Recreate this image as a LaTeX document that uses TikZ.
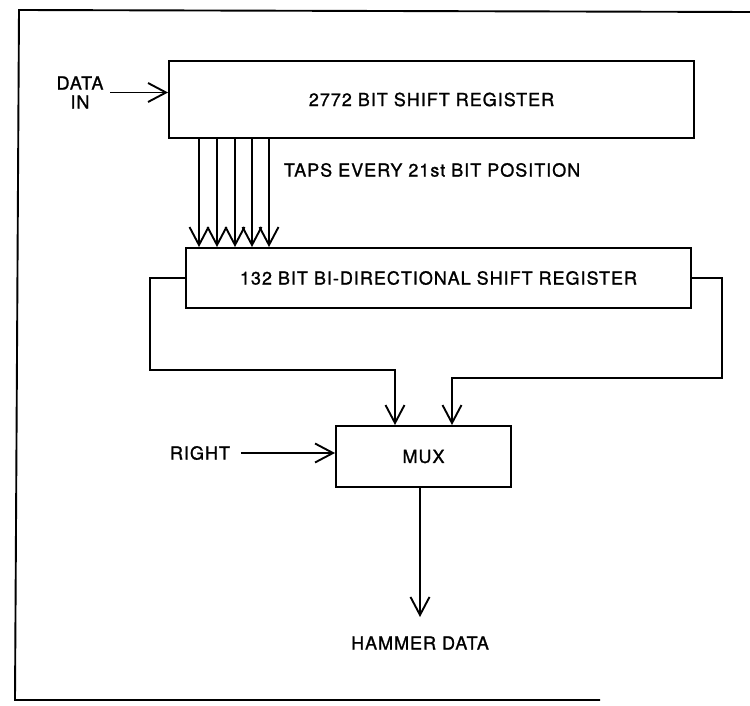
\documentclass[tikz,border=0pt]{standalone}
\usepackage{fontspec}
\newfontfamily\diafont[LetterSpace=5.5,FakeBold=1.2]{TeX Gyre Heros}
\usetikzlibrary{arrows.meta}
\begin{document}
\begin{tikzpicture}[x=1pt,y=-1pt,line width=1.9pt,
  box/.style={draw,rectangle,inner sep=0pt,line join=miter,
    font=\diafont\fontsize{18}{19}\selectfont},
  lbl/.style={inner sep=0pt,font=\diafont\fontsize{18}{19}\selectfont},
  arr/.style={-{Straight Barb[length=18pt,width=19pt,line width=1.9pt]}}]
\useasboundingbox (0,0) rectangle (750,706);
% frame
\coordinate (f1) at (750,12);
\coordinate (f2) at (19,10);
\coordinate (f3) at (15,700);
\coordinate (f4) at (600,700);
\draw[line join=miter] (f1) -- (f2) -- (f3) -- (f4);
% blocks
\node[box,minimum width=525pt,minimum height=77pt] (sr) at (431.5,99.5) {2772 BIT SHIFT REGISTER};
\node[box,minimum width=505pt,minimum height=60pt] (bd) at (438.5,278) {132 BIT BI-DIRECTIONAL SHIFT REGISTER};
\node[box,minimum width=175pt,minimum height=61pt] (mux) at (423.5,456.5) {MUX};
% labels
\node[lbl,align=center] (din) at (80,92.5) {DATA\\IN};
\node[lbl,anchor=west] (taps) at (283,170) {TAPS EVERY 21st BIT POSITION};
\node[lbl] (rl) at (200,453) {RIGHT};
\node[lbl] (hd) at (420,643) {HAMMER DATA};
% input arrows
\draw[arr] ([xshift=6pt]din.east) -- (din.east -| sr.west);
\draw[arr] ([xshift=10pt]rl.east) -- (rl.east -| mux.west);
% taps
\foreach \x [count=\i] in {199,217,235,252,269} {
  \coordinate (t\i) at (\x,0);
  \draw[arr] (sr.south -| t\i) -- (bd.north -| t\i);
}
% loops to mux
\coordinate (l1) at (150,370);
\coordinate (ml) at (395,0);
\coordinate (r1) at (722,378);
\coordinate (mr) at (452,0);
\draw[arr,line join=miter] (bd.west) -- (bd.west -| l1) -- (l1) -- (l1 -| ml) -- (mux.north -| ml);
\draw[arr,line join=miter] (bd.east) -- (bd.east -| r1) -- (r1) -- (r1 -| mr) -- (mux.north -| mr);
% output
\coordinate (o2) at (420,617);
\draw[arr] (mux.south -| o2) -- (o2);
\end{tikzpicture}
\end{document}
